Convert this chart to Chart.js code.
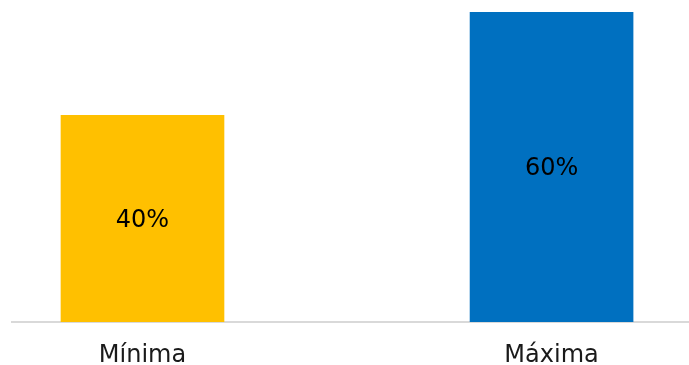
<!DOCTYPE html>
<html>
<head>
<meta charset="utf-8">
<script src="https://cdn.jsdelivr.net/npm/chart.js@4/dist/chart.umd.min.js"></script>
<style>
    html, body { margin: 0; padding: 0; background: #fff; }
    #wrap { width: 689px; height: 365px; }
</style>
</head>
<body>
<div id="wrap"><canvas id="myChart"></canvas></div>
<script>
const categories = ['Mínima', 'Máxima'];
const values = [40, 60];
const barColors = ['#FFC000', '#0070C0'];
const valueLabels = ['40%', '60%'];

// draws the value text inside each bar
const barLabels = {
    id: 'barLabels',
    afterDatasetsDraw(chart)
    {
        const ctx = chart.ctx;
        const meta = chart.getDatasetMeta(0);
        ctx.save();
        ctx.font = '24px "DejaVu Sans"';
        ctx.fillStyle = '#000000';
        ctx.textAlign = 'center';
        ctx.textBaseline = 'middle';
        meta.data.forEach((bar, i) =>
        {
            const mid = (bar.y + bar.base) / 2 + 2;
            ctx.fillText(valueLabels[i], bar.x, mid);
        });
        ctx.restore();
    }
};

const chartContext = document.getElementById('myChart').getContext('2d');
new Chart(chartContext, {
    type: 'bar',
    data: {
        datasets: [
            {
                data: values.map((v, i) => ({ x: i, y: v })),
                backgroundColor: barColors,
                borderWidth: 0,
                barThickness: 163,
            },
        ]
    },
    plugins: [barLabels],
    options: {
        responsive: true,
        maintainAspectRatio: false,
        animation: false,
        layout: {
            padding: { top: 12, left: 12, right: 0, bottom: 0 }
        },
        plugins: {
            legend: { display: false },
            tooltip: { enabled: false },
        },
        scales: {
            x: {
                type: 'linear',
                offset: false,
                min: -0.319,
                max: 1.336,
                grid: { display: false, offset: false },
                border: { display: true, color: '#D9D9D9', width: 2 },
                afterBuildTicks: (axis) =>
                {
                    axis.ticks = categories.map((c, i) => ({ value: i }));
                },
                afterFit: (axis) =>
                {
                    axis.height = 43;
                },
                ticks: {
                    autoSkip: false,
                    maxRotation: 0,
                    padding: 11,
                    color: '#1a1a1a',
                    font: { family: 'DejaVu Sans', size: 24 },
                    callback: (value) => categories[value] ?? ''
                }
            },
            y: {
                display: false,
                min: 0,
                max: 60,
            }
        }
    }
});
</script>
</body>
</html>
